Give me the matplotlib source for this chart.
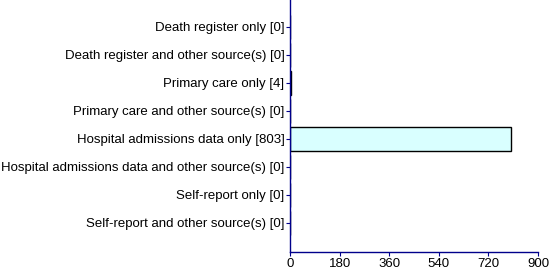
import matplotlib
matplotlib.use("Agg")
import matplotlib.pyplot as plt

categories = [
    "Death register only",
    "Death register and other source(s)",
    "Primary care only",
    "Primary care and other source(s)",
    "Hospital admissions data only",
    "Hospital admissions data and other source(s)",
    "Self-report only",
    "Self-report and other source(s)",
]
values = [0, 0, 4, 0, 803, 0, 0, 0]
xticks = [0, 180, 360, 540, 720, 900]

plt.rcParams['font.family'] = ['Liberation Sans', 'DejaVu Sans']
fig = plt.figure(figsize=(5.5, 2.76), dpi=100)
ax = fig.add_axes([290/550, 24/276, 248/550, 252/276])

labels = [f"{c} [{v}]" for c, v in zip(categories, values)]
pos = list(range(len(categories)))
ax.barh(pos, values, height=0.86, color="#D9FFFF", edgecolor="black", linewidth=1.0)
ax.set_yticks(pos)
ax.set_yticklabels(labels, fontsize=9.5)
ax.set_ylim(8.04, -0.96)
ax.set_xlim(0, 900)
ax.set_xticks(xticks)
ax.set_xticklabels([str(t) for t in xticks], fontsize=9.5)

navy = "#00008B"
for s in ["top", "right"]:
    ax.spines[s].set_visible(False)
for s in ["left", "bottom"]:
    ax.spines[s].set_color(navy)
    ax.spines[s].set_linewidth(1.0)
ax.tick_params(axis="both", colors=navy, labelcolor="black", length=3, width=0.8, pad=1)

fig.savefig("out.png", dpi=100)
